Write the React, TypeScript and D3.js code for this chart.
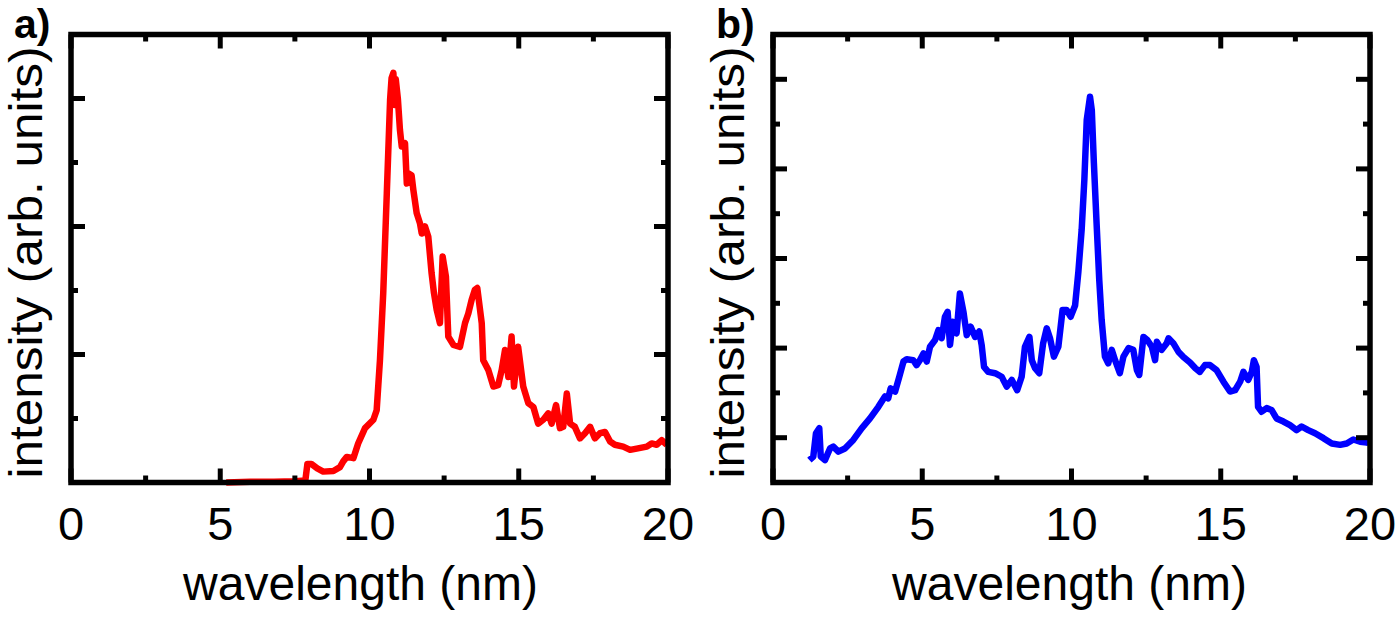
import React, { useEffect, useRef } from 'react';
import * as d3 from 'd3';

// panel a) - red spectrum (wavelength in nm, intensity in tick units)
const aWavelength = [
  5.2, 6.0, 6.8, 7.5, 7.85, 7.92, 8.05, 8.25, 8.45, 8.79, 9.01, 9.12, 9.24, 9.46, 9.62, 9.85,
  10.13, 10.24, 10.35, 10.46, 10.58, 10.69, 10.74, 10.8, 10.85, 10.88, 10.95, 11.02, 11.08,
  11.19, 11.25, 11.3, 11.41, 11.47, 11.58, 11.69, 11.75, 11.86, 11.97, 12.08, 12.16, 12.25,
  12.36, 12.45, 12.56, 12.64, 12.81, 13.03, 13.2, 13.31, 13.42, 13.53, 13.61, 13.76, 13.81,
  13.98, 14.15, 14.31, 14.43, 14.54, 14.65, 14.76, 14.84, 14.98, 15.15, 15.32, 15.49, 15.65,
  15.82, 15.99, 16.1, 16.25, 16.38, 16.49, 16.61, 16.72, 16.88, 17.05, 17.22, 17.39, 17.55,
  17.72, 17.89, 18.06, 18.22, 18.5, 18.73, 18.95, 19.29, 19.45, 19.62, 19.79, 19.96,
];
const aIntensity = [
  0.0, 0.01, 0.01, 0.02, 0.03, 0.29, 0.29, 0.22, 0.17, 0.18, 0.24, 0.33, 0.4, 0.38, 0.61, 0.85,
  0.98, 1.13, 1.91, 2.96, 4.52, 5.98, 6.32, 6.4, 5.9, 6.3, 6.0, 5.51, 5.25,
  5.3, 4.67, 4.83, 4.8, 4.57, 4.21, 4.05, 3.89, 4.0, 3.84, 3.27, 2.96, 2.7,
  2.49, 3.53, 3.22, 2.28, 2.15, 2.12, 2.49, 2.64, 2.85, 3.01, 3.04, 2.49, 1.91,
  1.76, 1.5, 1.52, 1.76, 2.07, 1.65, 2.28, 1.5, 2.12, 1.5, 1.24, 1.18, 0.92,
  0.98, 1.08, 0.92, 1.21, 0.85, 0.87, 1.39, 0.92, 0.87, 0.69, 0.77, 0.87, 0.69,
  0.77, 0.79, 0.64, 0.59, 0.56, 0.51, 0.53, 0.56, 0.61, 0.59, 0.66, 0.59,
];

// panel b) - blue spectrum
const bWavelength = [
  1.22, 1.35, 1.44, 1.55, 1.6, 1.74, 1.91, 2.02, 2.19, 2.41, 2.69, 2.97, 3.25, 3.53, 3.75, 3.86,
  3.94, 4.09, 4.23, 4.37, 4.48, 4.7, 4.81, 4.92, 5.04, 5.15, 5.26, 5.43, 5.54, 5.65, 5.76, 5.85,
  5.93, 6.02, 6.15, 6.26, 6.38, 6.49, 6.62, 6.77, 6.91, 6.99, 7.07, 7.21, 7.44, 7.66, 7.83, 8.0,
  8.18, 8.33, 8.44, 8.59, 8.67, 8.78, 8.92, 9.05, 9.17, 9.28, 9.41, 9.56, 9.7, 9.84, 9.97, 10.12,
  10.23, 10.34, 10.43, 10.51, 10.62, 10.68, 10.75, 10.84, 10.93, 11.01, 11.12, 11.23, 11.35,
  11.46, 11.62, 11.74, 11.91, 12.07, 12.19, 12.27, 12.41, 12.54, 12.69, 12.8, 12.86, 13.02,
  13.19, 13.25, 13.41, 13.58, 13.75, 13.97, 14.15, 14.3, 14.47, 14.64, 14.86, 15.09, 15.31,
  15.48, 15.65, 15.76, 15.92, 16.04, 16.11, 16.2, 16.25, 16.37, 16.54, 16.7, 16.87, 17.1,
  17.32, 17.54, 17.71, 17.93, 18.16, 18.44, 18.72, 19.0, 19.22, 19.44, 19.67, 19.89, 20.0,
];
const bIntensity = [
  0.5, 0.58, 1.1, 1.21, 0.58, 0.5, 0.76, 0.8, 0.69, 0.76, 0.95, 1.21, 1.43, 1.69, 1.92, 1.88,
  2.1, 2.03, 2.36, 2.7, 2.75, 2.73, 2.62, 2.73, 2.88, 2.7, 3.03, 3.18, 3.4, 3.22, 3.7, 3.81,
  3.07, 3.59, 3.33, 4.22, 3.81, 3.29, 3.48, 3.25, 3.37, 3.07, 2.58, 2.47, 2.44, 2.36, 2.14, 2.29,
  2.06, 2.36, 3.03, 3.25, 2.73, 2.55, 2.44, 3.11, 3.44, 3.22, 2.81, 3.03, 3.85, 3.85, 3.7, 3.95,
  4.7, 5.64, 6.75, 8.09, 8.61, 8.31, 7.13, 5.79, 4.52, 3.63, 2.81, 2.66, 2.96,
  2.73, 2.44, 2.81, 3.0, 2.96, 2.51, 2.4, 3.25, 3.18, 3.03, 2.73, 3.14, 2.96,
  3.11, 3.22, 3.11, 2.92, 2.8, 2.68, 2.55, 2.47, 2.62, 2.62, 2.51, 2.25, 2.03,
  2.06, 2.25, 2.47, 2.29, 2.47, 2.73, 2.58, 1.69, 1.58, 1.66, 1.62, 1.43, 1.36,
  1.28, 1.17, 1.25, 1.17, 1.1, 0.99, 0.87, 0.84, 0.87, 0.96, 0.91, 0.89, 0.9,
];

const xMajorTicks = [0, 5, 10, 15, 20];
const xMinorTicks = [2.5, 7.5, 12.5, 17.5];
const aMajorTicks = [0, 2, 4, 6];
const aMinorTicks = [1, 3, 5, 7];
const bMajorTicks = [1, 3, 5, 7, 9];
const bMinorTicks = [0, 2, 4, 6, 8, 10];

const panels = [
  { tag: 'a)', left: 71, xs: aWavelength, ys: aIntensity, yMax: 7, major: aMajorTicks, minor: aMinorTicks, color: '#ff0000', labelShift: -9 },
  { tag: 'b)', left: 773, xs: bWavelength, ys: bIntensity, yMax: 10, major: bMajorTicks, minor: bMinorTicks, color: '#0000ff', labelShift: -2 },
];

const App: React.FC = () => {
  const ref = useRef<SVGSVGElement>(null);

  useEffect(() => {
    const svg = d3.select(ref.current);
    svg.selectAll('*').remove();

    const top = 34.5;
    const bottom = 482.5;
    const w = 597;
    const font = 'Arial, "Liberation Sans", Helvetica, sans-serif';

    panels.forEach(p => {
      const g = svg.append('g');
      const x = d3.scaleLinear().domain([0, 20]).range([p.left, p.left + w]);
      const y = d3.scaleLinear().domain([0, p.yMax]).range([bottom, top]);

      const line = d3
        .line<number>()
        .x((_, i) => x(p.xs[i]))
        .y(d => y(d));

      g.append('path')
        .datum(p.ys)
        .attr('d', line)
        .attr('fill', 'none')
        .attr('stroke', p.color)
        .attr('stroke-width', 6.5)
        .attr('stroke-linejoin', 'round');

      // frame
      g.append('rect')
        .attr('x', p.left)
        .attr('y', top)
        .attr('width', w)
        .attr('height', bottom - top)
        .attr('fill', 'none')
        .attr('stroke', '#000')
        .attr('stroke-width', 5.5);

      // ticks, pointing inwards on all four sides
      const ticks = g.append('g').attr('stroke', '#000').attr('stroke-width', 5);
      const xt = [...xMajorTicks.map(v => ({ v, len: 14 })), ...xMinorTicks.map(v => ({ v, len: 7 }))];
      xt.forEach(t => {
        ticks.append('line').attr('x1', x(t.v)).attr('x2', x(t.v)).attr('y1', bottom).attr('y2', bottom - t.len);
        ticks.append('line').attr('x1', x(t.v)).attr('x2', x(t.v)).attr('y1', top).attr('y2', top + t.len);
      });
      const yt = [...p.major.map(v => ({ v, len: 14 })), ...p.minor.map(v => ({ v, len: 7 }))];
      yt.forEach(t => {
        ticks.append('line').attr('x1', p.left).attr('x2', p.left + t.len).attr('y1', y(t.v)).attr('y2', y(t.v));
        ticks.append('line').attr('x1', p.left + w).attr('x2', p.left + w - t.len).attr('y1', y(t.v)).attr('y2', y(t.v));
      });

      // tick labels
      g.selectAll('.xlab')
        .data(xMajorTicks)
        .enter()
        .append('text')
        .attr('x', d => x(d))
        .attr('y', 540)
        .attr('text-anchor', 'middle')
        .attr('font-family', font)
        .attr('font-size', 47)
        .text(d => d);

      g.append('text')
        .attr('x', p.left + w / 2 + p.labelShift)
        .attr('y', 600)
        .attr('text-anchor', 'middle')
        .attr('font-family', font)
        .attr('font-size', 48)
        .text('wavelength (nm)');

      g.append('text')
        .attr('transform', `translate(${p.left - 29},${(top + bottom) / 2 + 4}) rotate(-90)`)
        .attr('text-anchor', 'middle')
        .attr('font-family', font)
        .attr('font-size', 46)
        .attr('textLength', 432)
        .attr('lengthAdjust', 'spacingAndGlyphs')
        .text('intensity (arb. units)');

      g.append('text')
        .attr('x', p.left - 57)
        .attr('y', 38)
        .attr('font-family', font)
        .attr('font-weight', 'bold')
        .attr('font-size', 41)
        .text(p.tag);
    });
  }, []);

  return (
    <svg
      ref={ref}
      width={1400}
      height={617}
      style={{ position: 'absolute', left: 0, top: 0, background: '#fff' }}
    />
  );
};

export default App;
